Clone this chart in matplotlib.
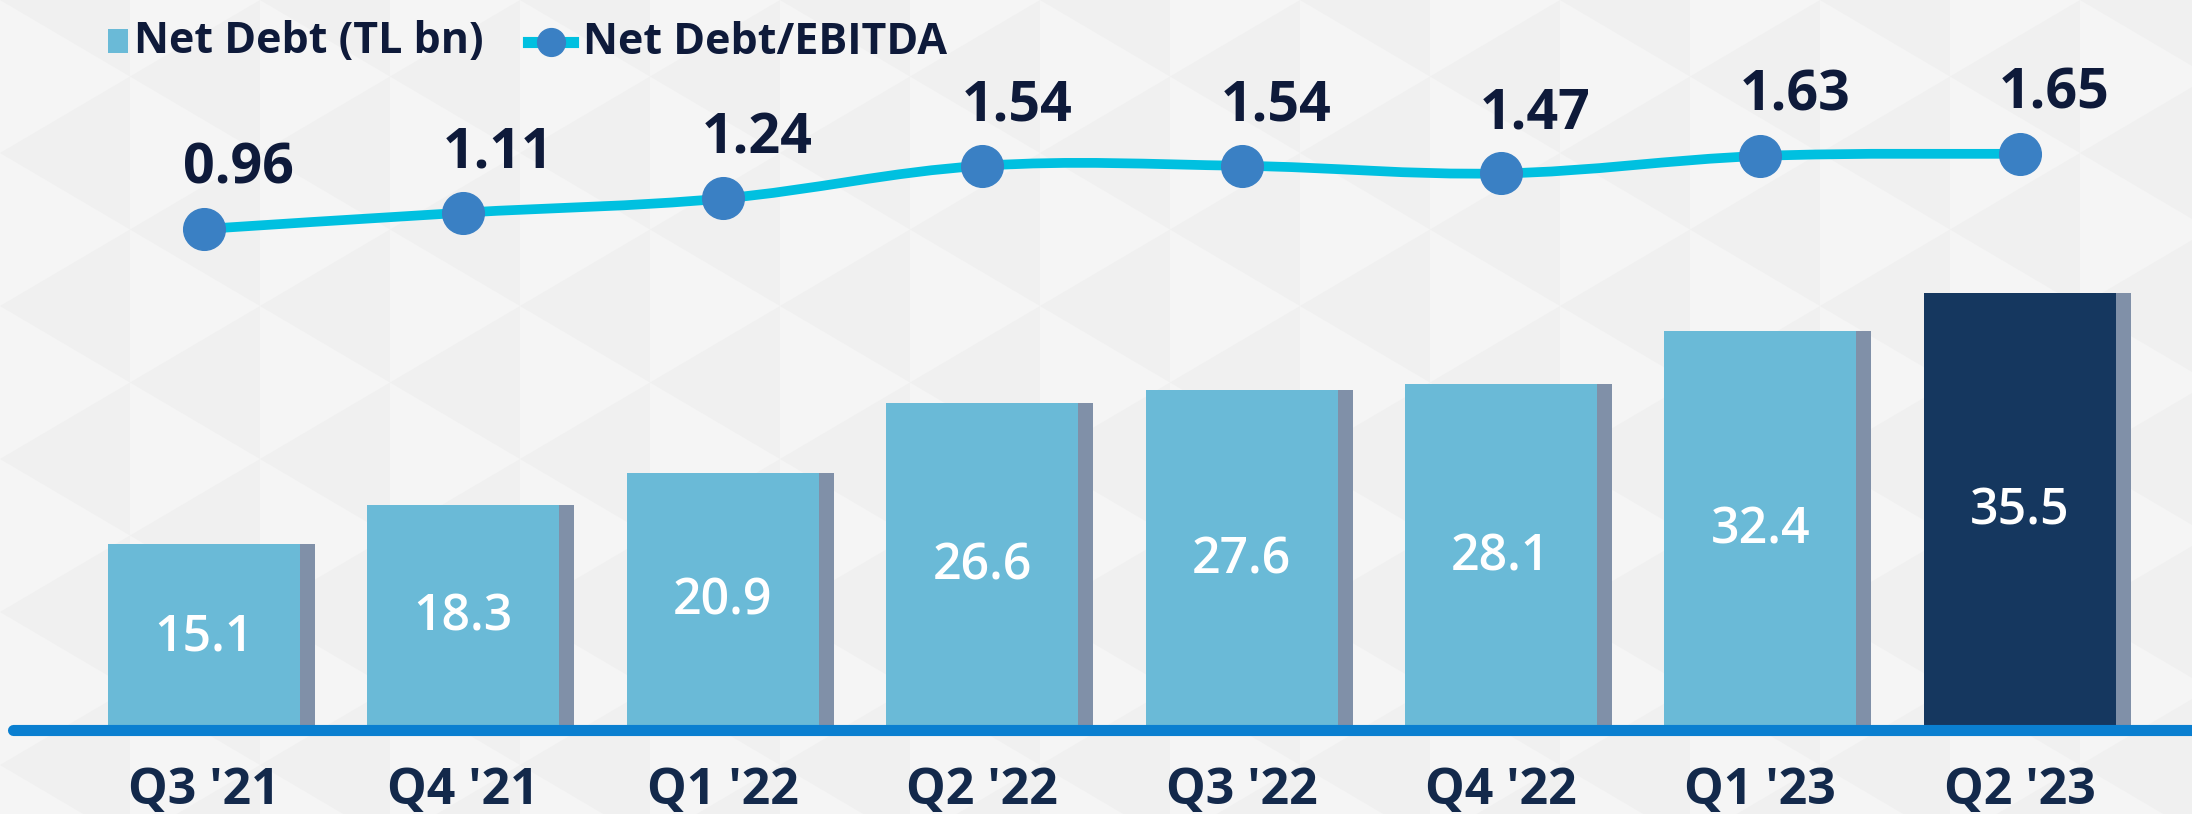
import matplotlib.pyplot as plt
from matplotlib.lines import Line2D
from matplotlib.patches import Rectangle, Polygon, PathPatch
from matplotlib.path import Path
import numpy as np

# data
quarters = ["Q3 '21", "Q4 '21", "Q1 '22", "Q2 '22", "Q3 '22", "Q4 '22", "Q1 '23", "Q2 '23"]
net_debt = [15.1, 18.3, 20.9, 26.6, 27.6, 28.1, 32.4, 35.5]
net_debt_ebitda = [0.96, 1.11, 1.24, 1.54, 1.54, 1.47, 1.63, 1.65]

plt.rcParams['font.family'] = ['Open Sans', 'DejaVu Sans']

light = '#6abad7'
navy = '#15375f'
shadow = '#8090a8'
cyan = '#00c0e0'
dot = '#3a80c4'
text_dark = '#0e1a3a'

W, H = 2192, 814
fig = plt.figure(figsize=(W / 100, H / 100), dpi=100)
fig.patch.set_facecolor('#f0f0f0')

def fx(px):
    return px / W

def fy(py):
    return 1 - py / H

# faint triangle pattern in the background
cw, rh = 130, 153
for c in range(W // cw + 1):
    x0 = c * cw
    off = 0 if c % 2 == 0 else rh / 2
    for r in range(-1, H // rh + 2):
        y0 = r * rh + off
        tri = [(fx(x0), fy(y0)), (fx(x0), fy(y0 + rh)), (fx(x0 + cw), fy(y0 + rh / 2))]
        fig.patches.append(Polygon(tri, closed=True, transform=fig.transFigure,
                                   facecolor='#f5f5f5', edgecolor='none', zorder=-10))

# axes from baseline (y px 730) to top of figure
ax = fig.add_axes([0, (H - 730) / H, 1, 730 / H])
ax.set_facecolor('none')
x = np.arange(len(quarters))
w = 0.74

colors = [light] * (len(x) - 1) + [navy]
# little shadow strip on the right of each bar
ax.bar(x + w / 2, net_debt, width=0.058, align='edge', color=shadow, zorder=2)
ax.bar(x, net_debt, width=w, color=colors, zorder=3)
for xi, v in zip(x, net_debt):
    ax.text(xi, v / 2, f'{v:.1f}', ha='center', va='center', color='white',
            fontsize=36, fontweight='semibold', zorder=4)

ax.set_xlim(-0.786, 7.664)
ax.set_ylim(0, 59.3)
ax.set_xticks(x)
ax.set_xticklabels(quarters, fontsize=36, fontweight='bold', color='#13294b')
ax.tick_params(axis='x', length=0, pad=26)
ax.set_yticks([])
for s in ax.spines.values():
    s.set_visible(False)

# blue baseline
ax.add_line(Line2D([13 / W, 1], [0, 0], transform=ax.transAxes, color='#0a7fd0',
                   lw=8, solid_capstyle='round', clip_on=False, zorder=5))

ax2 = ax.twinx()
ax2.set_ylim(-3.636, 3.061)

# smooth line through the points (catmull-rom as bezier segments)
pts = np.column_stack([x, net_debt_ebitda]).astype(float)
verts = [tuple(pts[0])]
codes = [Path.MOVETO]
k = 0.18
for i in range(len(pts) - 1):
    p0 = pts[max(i - 1, 0)]
    p1 = pts[i]
    p2 = pts[i + 1]
    p3 = pts[min(i + 2, len(pts) - 1)]
    c1 = p1 + (p2 - p0) * k
    c2 = p2 - (p3 - p1) * k
    verts += [tuple(c1), tuple(c2), tuple(p2)]
    codes += [Path.CURVE4] * 3
ax2.add_patch(PathPatch(Path(verts, codes), facecolor='none', edgecolor=cyan,
                        lw=7, zorder=3, capstyle='round'))
ax2.plot(x, net_debt_ebitda, 'o', color=dot, markersize=30, zorder=4)
for xi, v in zip(x, net_debt_ebitda):
    ax2.annotate(f'{v:.2f}', (xi, v), xytext=(-15, 43), textcoords='offset points',
                 ha='left', va='center', fontsize=40, fontweight='bold', color=text_dark)
ax2.set_yticks([])
for s in ax2.spines.values():
    s.set_visible(False)

# legend drawn by hand
fig.patches.append(Rectangle((fx(108), fy(53)), fx(20), 24 / H, transform=fig.transFigure,
                             facecolor=light, edgecolor='none'))
fig.text(fx(134), fy(42), 'Net Debt (TL bn)', ha='left', va='center', fontsize=31,
         fontweight='bold', color=text_dark)
fig.add_artist(Line2D([fx(528), fx(573)], [fy(42), fy(42)], transform=fig.transFigure,
                      color=cyan, lw=8))
fig.add_artist(Line2D([fx(551)], [fy(42)], transform=fig.transFigure, marker='o',
                      markersize=20, color=dot, lw=0))
fig.text(fx(583), fy(42), 'Net Debt/EBITDA', ha='left', va='center', fontsize=31,
         fontweight='bold', color=text_dark)

fig.savefig('out.png', dpi=100, facecolor=fig.get_facecolor())
